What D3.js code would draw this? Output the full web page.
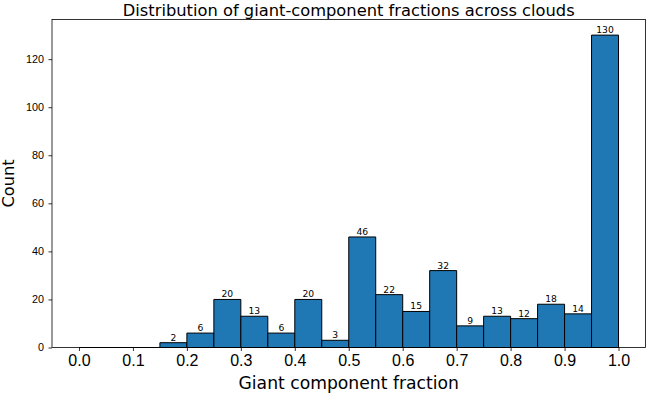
<!DOCTYPE html>
<html>
<head>
<meta charset="utf-8">
<script src="https://cdnjs.cloudflare.com/ajax/libs/d3/7.8.5/d3.min.js"></script>
<style>
  body { margin: 0; background: #fff; }
  svg { display: block; font-family: "DejaVu Sans", sans-serif; }
</style>
</head>
<body>
<svg id="chart" width="646" height="394"></svg>
<script>
// histogram bins (left edges, width 0.05) and counts
const binStarts = [0.00, 0.05, 0.10, 0.15, 0.20, 0.25, 0.30, 0.35, 0.40, 0.45,
                   0.50, 0.55, 0.60, 0.65, 0.70, 0.75, 0.80, 0.85, 0.90, 0.95];
const binWidth = 0.05;
const counts = [0, 0, 0, 2, 6, 20, 13, 6, 20, 3,
                46, 22, 15, 32, 9, 13, 12, 18, 14, 130];
const xTicks = [0, 0.1, 0.2, 0.3, 0.4, 0.5, 0.6, 0.7, 0.8, 0.9, 1.0];
const yTicks = [0, 20, 40, 60, 80, 100, 120];

const title = "Distribution of giant-component fractions across clouds";
const xLabel = "Giant component fraction";
const yLabel = "Count";

const margin = {top: 19.5, right: 0.5, bottom: 46.5, left: 52};
const W = 646, H = 394;
const w = W - margin.left - margin.right;
const h = H - margin.top - margin.bottom;

const svg = d3.select("#chart");
const g = svg.append("g").attr("transform", `translate(${margin.left},${margin.top})`);

const x = d3.scaleLinear().domain([-0.05, 1.05]).range([0, w]);
const maxCount = d3.max(counts);
const y = d3.scaleLinear().domain([0, maxCount * 1.05]).range([h, 0]);

// bars (path so zero-height bins still show their edge)
const bars = binStarts.map((s, i) => ({x0: s, x1: s + binWidth, c: counts[i]}));

g.append("g")
  .selectAll("path")
  .data(bars)
  .join("path")
    .attr("d", d => {
      const p = d3.path();
      p.moveTo(x(d.x0), y(0));
      p.lineTo(x(d.x0), y(d.c));
      p.lineTo(x(d.x1), y(d.c));
      p.lineTo(x(d.x1), y(0));
      p.closePath();
      return p.toString();
    })
    .attr("fill", "#1f77b4")
    .attr("stroke", "#000")
    .attr("stroke-width", 1);

// bar labels
g.append("g")
  .selectAll("text")
  .data(bars.filter(d => d.c > 0))
  .join("text")
    .attr("x", d => x((d.x0 + d.x1) / 2))
    .attr("y", d => y(d.c) - 2)
    .attr("text-anchor", "middle")
    .attr("font-size", 9.2)
    .attr("fill", "#000")
    .text(d => d.c);

// axes
const xAxis = d3.axisBottom(x).tickValues(xTicks).tickFormat(d3.format(".1f"))
  .tickSize(3.5).tickPadding(4);
const yAxis = d3.axisLeft(y).tickValues(yTicks).tickFormat(d3.format("d"))
  .tickSize(3.5).tickPadding(4.5);

const gx = g.append("g").attr("transform", `translate(0,${h})`).call(xAxis);
gx.select(".domain").remove();
gx.selectAll("text").attr("font-size", 16).attr("fill", "#000");
gx.selectAll("line").attr("stroke", "#000").attr("stroke-width", 0.8);

const gy = g.append("g").call(yAxis);
gy.select(".domain").remove();
gy.selectAll("text").attr("font-size", 10.8).attr("fill", "#000");
gy.selectAll("line").attr("stroke", "#000").attr("stroke-width", 0.8);

// frame
g.append("rect")
  .attr("width", w).attr("height", h)
  .attr("fill", "none")
  .attr("stroke", "#000")
  .attr("stroke-width", 0.8);

// titles
svg.append("text")
  .attr("x", margin.left + w / 2)
  .attr("y", 15.5)
  .attr("text-anchor", "middle")
  .attr("font-size", 16.3)
  .text(title);

svg.append("text")
  .attr("x", margin.left + w / 2)
  .attr("y", 389)
  .attr("text-anchor", "middle")
  .attr("font-size", 17.2)
  .text(xLabel);

svg.append("text")
  .attr("transform", `translate(14,${margin.top + h / 2}) rotate(-90)`)
  .attr("text-anchor", "middle")
  .attr("font-size", 16.2)
  .text(yLabel);
</script>
</body>
</html>
